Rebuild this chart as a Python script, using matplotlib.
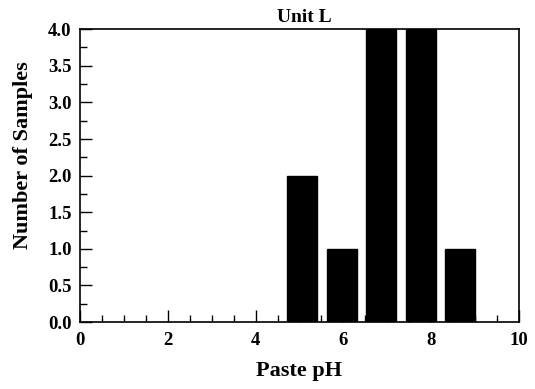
import matplotlib
matplotlib.use("Agg")
import matplotlib.pyplot as plt
from matplotlib.ticker import MultipleLocator

plt.rcParams['font.family'] = ['Liberation Serif', 'DejaVu Serif']
plt.rcParams['font.weight'] = 'bold'

# paste pH histogram, unit L
ph_centers = [5.06, 5.97, 6.86, 7.77, 8.66]
counts = [2, 1, 4, 4, 1]
bar_width = 0.7

fig = plt.figure(figsize=(5.35, 3.89), dpi=100)
ax = fig.add_axes([0.1495, 0.172, 0.8205, 0.753])

ax.bar(ph_centers, counts, width=bar_width, color='black', edgecolor='black')

ax.set_xlim(0, 10)
ax.set_ylim(0, 4)
ax.xaxis.set_major_locator(MultipleLocator(2))
ax.xaxis.set_minor_locator(MultipleLocator(0.5))
ax.yaxis.set_major_locator(MultipleLocator(0.5))
ax.yaxis.set_minor_locator(MultipleLocator(0.25))
ax.set_yticklabels([f"{v:.1f}" for v in ax.get_yticks()])

ax.tick_params(which='both', direction='in', top=False, right=False, width=1, labelsize=13.5)
ax.tick_params(which='major', length=8.5)
ax.tick_params(which='minor', length=5)
ax.tick_params(axis='y', which='major', pad=6)
ax.tick_params(axis='x', which='major', pad=7)
for s in ax.spines.values():
    s.set_linewidth(1.2)

ax.set_title('Unit L', fontsize=14, fontweight='bold', pad=5, x=0.51)
ax.set_xlabel('Paste pH', fontsize=16, fontweight='bold', labelpad=9)
ax.set_ylabel('Number of Samples', fontsize=16, fontweight='bold')
ax.yaxis.set_label_coords(-0.107, 0.57)

fig.savefig('out.png', dpi=100)
